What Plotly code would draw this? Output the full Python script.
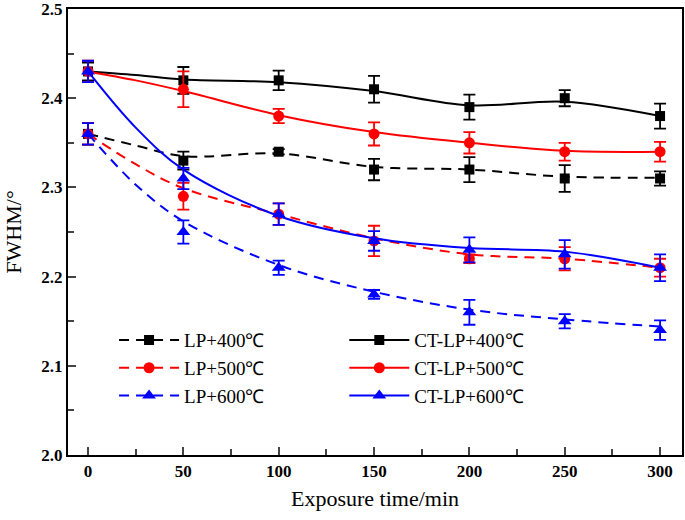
import plotly.graph_objects as go

# exposure time (min)
time = [0, 50, 100, 150, 200, 250, 300]

# measured FWHM values and error half-widths
lp400 = [2.36, 2.33, 2.34, 2.32, 2.32, 2.31, 2.31]
lp400_err = [0.012, 0.010, 0.003, 0.012, 0.014, 0.015, 0.008]
lp500 = [2.36, 2.29, 2.27, 2.24, 2.22, 2.22, 2.21]
lp500_err = [0.012, 0.015, 0.012, 0.017, 0.005, 0.013, 0.010]
lp600 = [2.36, 2.25, 2.21, 2.18, 2.16, 2.15, 2.14]
lp600_err = [0.012, 0.013, 0.008, 0.005, 0.014, 0.008, 0.011]
ct400 = [2.43, 2.42, 2.42, 2.41, 2.39, 2.40, 2.38]
ct400_err = [0.010, 0.015, 0.011, 0.015, 0.014, 0.009, 0.014]
ct500 = [2.43, 2.41, 2.38, 2.36, 2.35, 2.34, 2.34]
ct500_err = [0.012, 0.020, 0.008, 0.013, 0.012, 0.010, 0.011]
ct600 = [2.43, 2.31, 2.27, 2.24, 2.23, 2.225, 2.21]
ct600_err = [0.012, 0.012, 0.012, 0.011, 0.014, 0.016, 0.015]

# fitted curves
fit_time = [0, 25, 50, 100, 150, 200, 250, 300]
lp400_fit = [2.36, 2.347, 2.335, 2.338, 2.323, 2.32, 2.312, 2.311]
lp500_fit = [2.36, 2.326, 2.299, 2.27, 2.243, 2.225, 2.22, 2.21]
lp600_fit = [2.36, 2.303, 2.262, 2.213, 2.183, 2.163, 2.152, 2.144]
ct400_fit = [2.43, 2.426, 2.421, 2.418, 2.408, 2.392, 2.396, 2.38]
ct500_fit = [2.43, 2.42, 2.408, 2.381, 2.362, 2.35, 2.341, 2.34]
ct600_fit = [2.43, 2.367, 2.32, 2.268, 2.243, 2.232, 2.228, 2.21]

DASH = "10px,7px"
series = [
    ("LP+400℃", lp400, lp400_err, lp400_fit, "black", "square", 10, DASH, "legend"),
    ("LP+500℃", lp500, lp500_err, lp500_fit, "red", "circle", 11, DASH, "legend"),
    ("LP+600℃", lp600, lp600_err, lp600_fit, "blue", "triangle-up", 12, DASH, "legend"),
    ("CT-LP+400℃", ct400, ct400_err, ct400_fit, "black", "square", 10, "solid", "legend2"),
    ("CT-LP+500℃", ct500, ct500_err, ct500_fit, "red", "circle", 11, "solid", "legend2"),
    ("CT-LP+600℃", ct600, ct600_err, ct600_fit, "blue", "triangle-up", 12, "solid", "legend2"),
]

fig = go.Figure()

for name, ys, err, fit, color, sym, size, dash, leg in series:
    # smooth fit line
    fig.add_trace(go.Scatter(
        x=fit_time, y=fit, mode="lines",
        line=dict(color=color, width=2, dash=dash, shape="spline"),
        showlegend=False, hoverinfo="skip"
    ))
    # data points with error bars
    fig.add_trace(go.Scatter(
        x=time, y=ys, mode="markers",
        marker=dict(color=color, symbol=sym, size=size),
        error_y=dict(type="data", array=err, color=color, thickness=1.8, width=6),
        showlegend=False
    ))
    # legend entry
    fig.add_trace(go.Scatter(
        x=[None], y=[None], mode="lines+markers", name=name,
        legend=leg, legendgroup=name,
        line=dict(color=color, width=2, dash=dash),
        marker=dict(color=color, symbol=sym, size=size)
    ))

tick_font = dict(family="Liberation Serif", size=17, weight="bold", color="black")
title_font = dict(family="Liberation Serif", size=22, color="black")
leg_style = dict(
    yanchor="top", xanchor="left", y=0.30, tracegroupgap=0, itemwidth=60,
    font=dict(family="Liberation Serif", size=19, color="black"),
    bgcolor="rgba(0,0,0,0)"
)

fig.update_layout(
    width=685, height=520,
    margin=dict(l=68, r=3, t=9, b=65),
    paper_bgcolor="white", plot_bgcolor="white",
    font=dict(family="Liberation Serif", color="black"),
    showlegend=True,
    legend=dict(x=0.075, **leg_style),
    legend2=dict(x=0.45, **leg_style),
    xaxis=dict(
        range=[-10.5, 311.5], dtick=50, tick0=0, automargin=False,
        ticks="inside", ticklen=8, tickwidth=1.5,
        minor=dict(dtick=25, ticks="inside", ticklen=6, tickwidth=1.5),
        showline=True, linecolor="black", linewidth=2, mirror=True,
        showgrid=False, zeroline=False,
        tickfont=tick_font,
        title=dict(text="Exposure time/min", font=title_font, standoff=10)
    ),
    yaxis=dict(
        range=[2.0, 2.5], dtick=0.1, tick0=2.0, tickformat=".1f", automargin=False,
        ticks="inside", ticklen=8, tickwidth=1.5, ticklabeloverflow="allow",
        minor=dict(dtick=0.05, ticks="inside", ticklen=6, tickwidth=1.5),
        showline=True, linecolor="black", linewidth=2, mirror=True,
        showgrid=False, zeroline=False,
        tickfont=tick_font,
        title=dict(text="FWHM/°", font=title_font, standoff=14)
    ),
)

# drop the default page margin so the figure sits at the window corner
fig.write_html("out.html", config={"displayModeBar": False},
               post_script="document.body.style.margin='0';")
